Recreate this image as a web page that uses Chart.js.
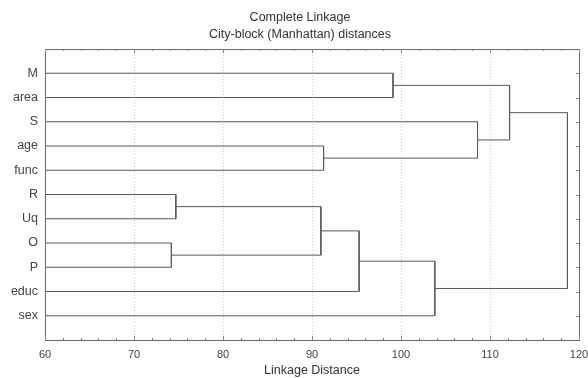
<!DOCTYPE html>
<html>
<head>
<meta charset="utf-8">
<script src="https://cdn.jsdelivr.net/npm/chart.js@4.4.0/dist/chart.umd.min.js"></script>
<style>
  html, body { margin: 0; padding: 0; background: #fdfdfd; }
  #wrap { width: 588px; height: 378px; }
</style>
</head>
<body>
<div id="wrap"><canvas id="canvas" width="588" height="378"></canvas></div>
<script>
// leaves, top to bottom
var leafLabels = ['M', 'area', 'S', 'age', 'func', 'R', 'Uq', 'O', 'P', 'educ', 'sex'];

// merges: node ids 0..10 are leaves, 11.. are clusters in this order
var mergeA = [0, 3, 2, 11, 5, 7, 15, 17, 18, 14];
var mergeB = [1, 4, 12, 13, 6, 8, 16, 9, 10, 19];
var mergeDist = [99.1, 91.3, 108.6, 112.2, 74.7, 74.2, 91.0, 95.3, 103.8, 118.7];

var xTicks = [60, 70, 80, 90, 100, 110, 120];
var xMin = 60, xMax = 120;

var titleLines = ['Complete Linkage', 'City-block (Manhattan) distances'];

/* node positions */
var nodeX = [];
var nodeY = [];
for (var i = 0; i < leafLabels.length; i++) {
    nodeX.push(xMin);
    nodeY.push(i + 1);
}

var datasets = [];
for (var i = 0; i < mergeA.length; i++) {
    var a = mergeA[i], b = mergeB[i], d = mergeDist[i];
    datasets.push({
        data: [
            {x: nodeX[a], y: nodeY[a]},
            {x: d, y: nodeY[a]},
            {x: d, y: nodeY[b]},
            {x: nodeX[b], y: nodeY[b]}
        ],
        borderColor: '#5a5a5a',
        borderWidth: 1,
        pointRadius: 0,
        fill: false,
        tension: 0
    });
    nodeX.push(d);
    nodeY.push((nodeY[a] + nodeY[b]) / 2);
}

/* box + inward ticks + titles */
var framePlugin = {
    id: 'frame',
    afterDraw: function (chart) {
        var ctx = chart.ctx;
        var area = chart.chartArea;
        var xs = chart.scales.x, ys = chart.scales.y;
        ctx.save();
        ctx.strokeStyle = '#6a6a6a';
        ctx.lineWidth = 1;
        ctx.strokeRect(Math.round(area.left) + 0.5, Math.round(area.top) + 0.5,
            Math.round(area.right - area.left), Math.round(area.bottom - area.top));
        ctx.strokeStyle = '#888';
        ctx.beginPath();
        for (var v = xMin; v <= xMax; v += 2) {
            var px = Math.round(xs.getPixelForValue(v)) + 0.5;
            var len = (v % 10 === 0) ? 4 : 2;
            ctx.moveTo(px, area.top);
            ctx.lineTo(px, area.top + len);
            ctx.moveTo(px, area.bottom);
            ctx.lineTo(px, area.bottom - len);
        }
        for (var k = 1; k <= leafLabels.length; k++) {
            var py = Math.round(ys.getPixelForValue(k)) + 0.5;
            ctx.moveTo(area.right, py);
            ctx.lineTo(area.right - 3, py);
        }
        ctx.stroke();

        ctx.fillStyle = '#333';
        ctx.font = '12.5px "Liberation Sans"';
        ctx.textAlign = 'center';
        ctx.textBaseline = 'middle';
        ctx.fillText(titleLines[0], 300, 18);
        ctx.fillText(titleLines[1], 300, 35);
        ctx.restore();
    }
};

var ctx = document.getElementById('canvas').getContext('2d');

var canvas = new Chart(ctx, {
    type: 'line',
    data: {datasets: datasets},
    plugins: [framePlugin],
    options: {
        responsive: false,
        animation: false,
        parsing: false,
        layout: {padding: {left: 0, right: 9, top: 49, bottom: 0}},
        plugins: {
            legend: {display: false},
            tooltip: {enabled: false},
            title: {display: false}
        },
        scales: {
            x: {
                type: 'linear',
                min: xMin,
                max: xMax,
                afterBuildTicks: function (scale) {
                    scale.ticks = xTicks.map(function (v) { return {value: v}; });
                },
                afterFit: function (scale) {
                    scale.height = 38;
                    scale.paddingLeft = 0;
                    scale.paddingRight = 0;
                },
                grid: {
                    color: '#d0d0d0',
                    drawTicks: false
                },
                border: {display: true, color: '#6a6a6a', dash: [1, 2]},
                ticks: {
                    color: '#444',
                    padding: 8,
                    font: {family: 'Liberation Sans', size: 11}
                },
                title: {
                    display: true,
                    text: 'Linkage Distance',
                    color: '#333',
                    padding: {top: 0, bottom: 0},
                    font: {family: 'Liberation Sans', size: 12.5}
                }
            },
            y: {
                type: 'linear',
                min: 0,
                max: leafLabels.length + 1,
                reverse: true,
                afterBuildTicks: function (scale) {
                    var t = [];
                    for (var k = 1; k <= leafLabels.length; k++) t.push({value: k});
                    scale.ticks = t;
                },
                afterFit: function (scale) {
                    scale.width = 45;
                    scale.paddingTop = 0;
                    scale.paddingBottom = 0;
                },
                grid: {display: false, drawTicks: false},
                border: {display: true, color: '#6a6a6a'},
                ticks: {
                    color: '#444',
                    padding: 7,
                    font: {family: 'Liberation Sans', size: 12.5},
                    callback: function (v) { return leafLabels[v - 1] || ''; }
                }
            }
        }
    }
});
</script>
</body>
</html>
